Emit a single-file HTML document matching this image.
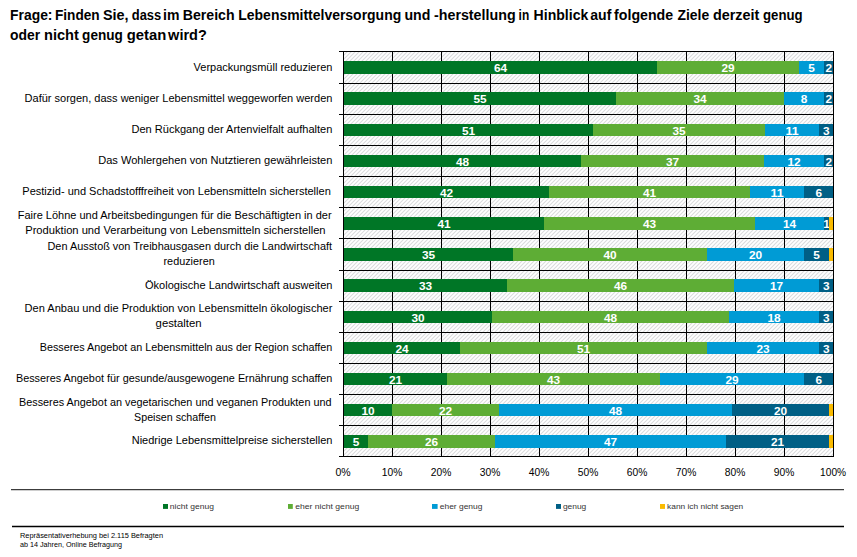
<!DOCTYPE html>
<html lang="de"><head><meta charset="utf-8"><title>Umfrage Lebensmittelversorgung</title>
<style>
html,body{margin:0;padding:0;background:#fff}
body{width:857px;height:557px;overflow:hidden;font-family:"Liberation Sans",sans-serif}
svg{display:block;font-family:"Liberation Sans",sans-serif}
.t{font-weight:bold;font-size:14px;fill:#000}
.l{font-size:11.0px;fill:#000}
.v{font-size:11.0px;font-weight:bold;fill:#fff;text-anchor:middle}
.x{font-size:10.8px;fill:#000;text-anchor:middle}
.g{font-size:8px;fill:#333}
.f{font-size:6.9px;fill:#000}
</style></head><body>
<svg width="857" height="557" viewBox="0 0 857 557">
<defs><pattern id="h" width="4" height="4" patternUnits="userSpaceOnUse"><rect width="4" height="4" fill="#fff"/><path d="M-2 1L1 -2M-1 4L4 -1M2 5L5 2" stroke="#dadbdd" stroke-width="1.05"/></pattern></defs>
<rect width="857" height="557" fill="#fff"/>
<text class="t" x="10.1" y="19.9" textLength="42.4" lengthAdjust="spacingAndGlyphs">Frage:</text>
<text class="t" x="55.0" y="19.9" textLength="44.7" lengthAdjust="spacingAndGlyphs">Finden</text>
<text class="t" x="102.9" y="19.9" textLength="25.6" lengthAdjust="spacingAndGlyphs">Sie,</text>
<text class="t" x="131.8" y="19.9" textLength="29.4" lengthAdjust="spacingAndGlyphs">dass</text>
<text class="t" x="163.1" y="19.9" textLength="16.4" lengthAdjust="spacingAndGlyphs">im</text>
<text class="t" x="182.8" y="19.9" textLength="51.8" lengthAdjust="spacingAndGlyphs">Bereich</text>
<text class="t" x="238.3" y="19.9" textLength="162.9" lengthAdjust="spacingAndGlyphs">Lebensmittelversorgung</text>
<text class="t" x="404.4" y="19.9" textLength="25.9" lengthAdjust="spacingAndGlyphs">und</text>
<text class="t" x="434.0" y="19.9" textLength="81.6" lengthAdjust="spacingAndGlyphs">-herstellung</text>
<text class="t" x="518.6" y="19.9" textLength="10.6" lengthAdjust="spacingAndGlyphs">in</text>
<text class="t" x="533.6" y="19.9" textLength="54.7" lengthAdjust="spacingAndGlyphs">Hinblick</text>
<text class="t" x="590.3" y="19.9" textLength="21.1" lengthAdjust="spacingAndGlyphs">auf</text>
<text class="t" x="614.1" y="19.9" textLength="59.0" lengthAdjust="spacingAndGlyphs">folgende</text>
<text class="t" x="677.5" y="19.9" textLength="31.7" lengthAdjust="spacingAndGlyphs">Ziele</text>
<text class="t" x="713.0" y="19.9" textLength="46.3" lengthAdjust="spacingAndGlyphs">derzeit</text>
<text class="t" x="763.0" y="19.9" textLength="39.6" lengthAdjust="spacingAndGlyphs">genug</text>
<text class="t" x="10.1" y="39.8" textLength="30.1" lengthAdjust="spacingAndGlyphs">oder</text>
<text class="t" x="44.0" y="39.8" textLength="34.9" lengthAdjust="spacingAndGlyphs">nicht</text>
<text class="t" x="82.1" y="39.8" textLength="40.7" lengthAdjust="spacingAndGlyphs">genug</text>
<text class="t" x="126.7" y="39.8" textLength="39.5" lengthAdjust="spacingAndGlyphs">getan</text>
<text class="t" x="168.1" y="39.8" textLength="38.7" lengthAdjust="spacingAndGlyphs">wird?</text>
<rect x="343.50" y="51.50" width="490.00" height="405.00" fill="url(#h)"/>
<line x1="343.50" y1="51.50" x2="343.50" y2="456.50" stroke="#000" stroke-width="1"/>
<line x1="392.50" y1="51.50" x2="392.50" y2="456.50" stroke="#000" stroke-width="1"/>
<line x1="441.50" y1="51.50" x2="441.50" y2="456.50" stroke="#000" stroke-width="1"/>
<line x1="490.50" y1="51.50" x2="490.50" y2="456.50" stroke="#000" stroke-width="1"/>
<line x1="539.50" y1="51.50" x2="539.50" y2="456.50" stroke="#000" stroke-width="1"/>
<line x1="588.50" y1="51.50" x2="588.50" y2="456.50" stroke="#000" stroke-width="1"/>
<line x1="637.50" y1="51.50" x2="637.50" y2="456.50" stroke="#000" stroke-width="1"/>
<line x1="686.50" y1="51.50" x2="686.50" y2="456.50" stroke="#000" stroke-width="1"/>
<line x1="735.50" y1="51.50" x2="735.50" y2="456.50" stroke="#000" stroke-width="1"/>
<line x1="784.50" y1="51.50" x2="784.50" y2="456.50" stroke="#000" stroke-width="1"/>
<line x1="833.50" y1="51.50" x2="833.50" y2="456.50" stroke="#000" stroke-width="1"/>
<line x1="339" y1="51.50" x2="834.00" y2="51.50" stroke="#000" stroke-width="1"/>
<line x1="339" y1="83.50" x2="834.00" y2="83.50" stroke="#000" stroke-width="1"/>
<line x1="339" y1="114.50" x2="834.00" y2="114.50" stroke="#000" stroke-width="1"/>
<line x1="339" y1="145.50" x2="834.00" y2="145.50" stroke="#000" stroke-width="1"/>
<line x1="339" y1="176.50" x2="834.00" y2="176.50" stroke="#000" stroke-width="1"/>
<line x1="339" y1="207.50" x2="834.00" y2="207.50" stroke="#000" stroke-width="1"/>
<line x1="339" y1="238.50" x2="834.00" y2="238.50" stroke="#000" stroke-width="1"/>
<line x1="339" y1="270.50" x2="834.00" y2="270.50" stroke="#000" stroke-width="1"/>
<line x1="339" y1="301.50" x2="834.00" y2="301.50" stroke="#000" stroke-width="1"/>
<line x1="339" y1="332.50" x2="834.00" y2="332.50" stroke="#000" stroke-width="1"/>
<line x1="339" y1="363.50" x2="834.00" y2="363.50" stroke="#000" stroke-width="1"/>
<line x1="339" y1="394.50" x2="834.00" y2="394.50" stroke="#000" stroke-width="1"/>
<line x1="339" y1="425.50" x2="834.00" y2="425.50" stroke="#000" stroke-width="1"/>
<line x1="339" y1="456.50" x2="834.00" y2="456.50" stroke="#000" stroke-width="1"/>
<rect x="344.00" y="61.00" width="313.00" height="13.00" fill="#007626"/>
<text class="v" x="500.50" y="72.20" textLength="13.2" lengthAdjust="spacingAndGlyphs">64</text>
<rect x="657.00" y="61.00" width="142.00" height="13.00" fill="#5EAD35"/>
<text class="v" x="728.00" y="72.20" textLength="13.2" lengthAdjust="spacingAndGlyphs">29</text>
<rect x="799.00" y="61.00" width="25.00" height="13.00" fill="#009BD5"/>
<text class="v" x="811.50" y="72.20" textLength="6.6" lengthAdjust="spacingAndGlyphs">5</text>
<rect x="824.00" y="61.00" width="9.50" height="13.00" fill="#005F85"/>
<text class="v" x="828.75" y="72.20" textLength="6.6" lengthAdjust="spacingAndGlyphs">2</text>
<rect x="344.00" y="92.00" width="272.00" height="13.00" fill="#007626"/>
<text class="v" x="480.00" y="103.20" textLength="13.2" lengthAdjust="spacingAndGlyphs">55</text>
<rect x="616.00" y="92.00" width="168.00" height="13.00" fill="#5EAD35"/>
<text class="v" x="700.00" y="103.20" textLength="13.2" lengthAdjust="spacingAndGlyphs">34</text>
<rect x="784.00" y="92.00" width="40.00" height="13.00" fill="#009BD5"/>
<text class="v" x="804.00" y="103.20" textLength="6.6" lengthAdjust="spacingAndGlyphs">8</text>
<rect x="824.00" y="92.00" width="9.50" height="13.00" fill="#005F85"/>
<text class="v" x="828.75" y="103.20" textLength="6.6" lengthAdjust="spacingAndGlyphs">2</text>
<rect x="344.00" y="124.00" width="249.00" height="12.00" fill="#007626"/>
<text class="v" x="468.50" y="134.70" textLength="13.2" lengthAdjust="spacingAndGlyphs">51</text>
<rect x="593.00" y="124.00" width="172.00" height="12.00" fill="#5EAD35"/>
<text class="v" x="679.00" y="134.70" textLength="13.2" lengthAdjust="spacingAndGlyphs">35</text>
<rect x="765.00" y="124.00" width="54.00" height="12.00" fill="#009BD5"/>
<text class="v" x="792.00" y="134.70" textLength="13.2" lengthAdjust="spacingAndGlyphs">11</text>
<rect x="819.00" y="124.00" width="14.50" height="12.00" fill="#005F85"/>
<text class="v" x="826.25" y="134.70" textLength="6.6" lengthAdjust="spacingAndGlyphs">3</text>
<rect x="344.00" y="155.00" width="237.00" height="12.00" fill="#007626"/>
<text class="v" x="462.50" y="165.70" textLength="13.2" lengthAdjust="spacingAndGlyphs">48</text>
<rect x="581.00" y="155.00" width="183.00" height="12.00" fill="#5EAD35"/>
<text class="v" x="672.50" y="165.70" textLength="13.2" lengthAdjust="spacingAndGlyphs">37</text>
<rect x="764.00" y="155.00" width="60.00" height="12.00" fill="#009BD5"/>
<text class="v" x="794.00" y="165.70" textLength="13.2" lengthAdjust="spacingAndGlyphs">12</text>
<rect x="824.00" y="155.00" width="9.50" height="12.00" fill="#005F85"/>
<text class="v" x="828.75" y="165.70" textLength="6.6" lengthAdjust="spacingAndGlyphs">2</text>
<rect x="344.00" y="186.00" width="205.00" height="12.00" fill="#007626"/>
<text class="v" x="446.50" y="196.70" textLength="13.2" lengthAdjust="spacingAndGlyphs">42</text>
<rect x="549.00" y="186.00" width="201.00" height="12.00" fill="#5EAD35"/>
<text class="v" x="649.50" y="196.70" textLength="13.2" lengthAdjust="spacingAndGlyphs">41</text>
<rect x="750.00" y="186.00" width="54.00" height="12.00" fill="#009BD5"/>
<text class="v" x="777.00" y="196.70" textLength="13.2" lengthAdjust="spacingAndGlyphs">11</text>
<rect x="804.00" y="186.00" width="29.50" height="12.00" fill="#005F85"/>
<text class="v" x="818.75" y="196.70" textLength="6.6" lengthAdjust="spacingAndGlyphs">6</text>
<rect x="344.00" y="217.00" width="200.00" height="13.00" fill="#007626"/>
<text class="v" x="444.00" y="228.20" textLength="13.2" lengthAdjust="spacingAndGlyphs">41</text>
<rect x="544.00" y="217.00" width="211.00" height="13.00" fill="#5EAD35"/>
<text class="v" x="649.50" y="228.20" textLength="13.2" lengthAdjust="spacingAndGlyphs">43</text>
<rect x="755.00" y="217.00" width="69.00" height="13.00" fill="#009BD5"/>
<text class="v" x="789.50" y="228.20" textLength="13.2" lengthAdjust="spacingAndGlyphs">14</text>
<rect x="824.00" y="217.00" width="5.00" height="13.00" fill="#005F85"/>
<text class="v" x="826.50" y="228.20" textLength="6.6" lengthAdjust="spacingAndGlyphs">1</text>
<rect x="829.00" y="217.00" width="4.50" height="13.00" fill="#FABB00"/>
<rect x="344.00" y="248.00" width="169.00" height="13.00" fill="#007626"/>
<text class="v" x="428.50" y="259.20" textLength="13.2" lengthAdjust="spacingAndGlyphs">35</text>
<rect x="513.00" y="248.00" width="194.00" height="13.00" fill="#5EAD35"/>
<text class="v" x="610.00" y="259.20" textLength="13.2" lengthAdjust="spacingAndGlyphs">40</text>
<rect x="707.00" y="248.00" width="97.00" height="13.00" fill="#009BD5"/>
<text class="v" x="755.50" y="259.20" textLength="13.2" lengthAdjust="spacingAndGlyphs">20</text>
<rect x="804.00" y="248.00" width="25.00" height="13.00" fill="#005F85"/>
<text class="v" x="816.50" y="259.20" textLength="6.6" lengthAdjust="spacingAndGlyphs">5</text>
<rect x="829.00" y="248.00" width="4.50" height="13.00" fill="#FABB00"/>
<rect x="344.00" y="279.00" width="163.00" height="13.00" fill="#007626"/>
<text class="v" x="425.50" y="290.20" textLength="13.2" lengthAdjust="spacingAndGlyphs">33</text>
<rect x="507.00" y="279.00" width="227.00" height="13.00" fill="#5EAD35"/>
<text class="v" x="620.50" y="290.20" textLength="13.2" lengthAdjust="spacingAndGlyphs">46</text>
<rect x="734.00" y="279.00" width="85.00" height="13.00" fill="#009BD5"/>
<text class="v" x="776.50" y="290.20" textLength="13.2" lengthAdjust="spacingAndGlyphs">17</text>
<rect x="819.00" y="279.00" width="14.50" height="13.00" fill="#005F85"/>
<text class="v" x="826.25" y="290.20" textLength="6.6" lengthAdjust="spacingAndGlyphs">3</text>
<rect x="344.00" y="311.00" width="148.00" height="12.00" fill="#007626"/>
<text class="v" x="418.00" y="321.70" textLength="13.2" lengthAdjust="spacingAndGlyphs">30</text>
<rect x="492.00" y="311.00" width="237.00" height="12.00" fill="#5EAD35"/>
<text class="v" x="610.50" y="321.70" textLength="13.2" lengthAdjust="spacingAndGlyphs">48</text>
<rect x="729.00" y="311.00" width="90.00" height="12.00" fill="#009BD5"/>
<text class="v" x="774.00" y="321.70" textLength="13.2" lengthAdjust="spacingAndGlyphs">18</text>
<rect x="819.00" y="311.00" width="14.50" height="12.00" fill="#005F85"/>
<text class="v" x="826.25" y="321.70" textLength="6.6" lengthAdjust="spacingAndGlyphs">3</text>
<rect x="344.00" y="342.00" width="116.00" height="12.00" fill="#007626"/>
<text class="v" x="402.00" y="352.70" textLength="13.2" lengthAdjust="spacingAndGlyphs">24</text>
<rect x="460.00" y="342.00" width="247.00" height="12.00" fill="#5EAD35"/>
<text class="v" x="583.50" y="352.70" textLength="13.2" lengthAdjust="spacingAndGlyphs">51</text>
<rect x="707.00" y="342.00" width="112.00" height="12.00" fill="#009BD5"/>
<text class="v" x="763.00" y="352.70" textLength="13.2" lengthAdjust="spacingAndGlyphs">23</text>
<rect x="819.00" y="342.00" width="14.50" height="12.00" fill="#005F85"/>
<text class="v" x="826.25" y="352.70" textLength="6.6" lengthAdjust="spacingAndGlyphs">3</text>
<rect x="344.00" y="373.00" width="103.00" height="12.00" fill="#007626"/>
<text class="v" x="395.50" y="383.70" textLength="13.2" lengthAdjust="spacingAndGlyphs">21</text>
<rect x="447.00" y="373.00" width="213.00" height="12.00" fill="#5EAD35"/>
<text class="v" x="553.50" y="383.70" textLength="13.2" lengthAdjust="spacingAndGlyphs">43</text>
<rect x="660.00" y="373.00" width="144.00" height="12.00" fill="#009BD5"/>
<text class="v" x="732.00" y="383.70" textLength="13.2" lengthAdjust="spacingAndGlyphs">29</text>
<rect x="804.00" y="373.00" width="29.50" height="12.00" fill="#005F85"/>
<text class="v" x="818.75" y="383.70" textLength="6.6" lengthAdjust="spacingAndGlyphs">6</text>
<rect x="344.00" y="404.00" width="48.00" height="12.00" fill="#007626"/>
<text class="v" x="368.00" y="414.70" textLength="13.2" lengthAdjust="spacingAndGlyphs">10</text>
<rect x="392.00" y="404.00" width="107.00" height="12.00" fill="#5EAD35"/>
<text class="v" x="445.50" y="414.70" textLength="13.2" lengthAdjust="spacingAndGlyphs">22</text>
<rect x="499.00" y="404.00" width="233.00" height="12.00" fill="#009BD5"/>
<text class="v" x="615.50" y="414.70" textLength="13.2" lengthAdjust="spacingAndGlyphs">48</text>
<rect x="732.00" y="404.00" width="97.00" height="12.00" fill="#005F85"/>
<text class="v" x="780.50" y="414.70" textLength="13.2" lengthAdjust="spacingAndGlyphs">20</text>
<rect x="829.00" y="404.00" width="4.50" height="12.00" fill="#FABB00"/>
<rect x="344.00" y="435.00" width="24.00" height="13.00" fill="#007626"/>
<text class="v" x="356.00" y="446.20" textLength="6.6" lengthAdjust="spacingAndGlyphs">5</text>
<rect x="368.00" y="435.00" width="127.00" height="13.00" fill="#5EAD35"/>
<text class="v" x="431.50" y="446.20" textLength="13.2" lengthAdjust="spacingAndGlyphs">26</text>
<rect x="495.00" y="435.00" width="231.00" height="13.00" fill="#009BD5"/>
<text class="v" x="610.50" y="446.20" textLength="13.2" lengthAdjust="spacingAndGlyphs">47</text>
<rect x="726.00" y="435.00" width="103.00" height="13.00" fill="#005F85"/>
<text class="v" x="777.50" y="446.20" textLength="13.2" lengthAdjust="spacingAndGlyphs">21</text>
<rect x="829.00" y="435.00" width="4.50" height="13.00" fill="#FABB00"/>
<line x1="343.50" y1="51.50" x2="343.50" y2="456.50" stroke="#000" stroke-width="1"/>
<line x1="833.50" y1="51.50" x2="833.50" y2="456.50" stroke="#000" stroke-width="1"/>
<text class="l" x="193.6" y="71.0" textLength="138.8" lengthAdjust="spacingAndGlyphs">Verpackungsmüll reduzieren</text>
<text class="l" x="24.6" y="102.0" textLength="307.8" lengthAdjust="spacingAndGlyphs">Dafür sorgen, dass weniger Lebensmittel weggeworfen werden</text>
<text class="l" x="131.4" y="133.0" textLength="201.0" lengthAdjust="spacingAndGlyphs">Den Rückgang der Artenvielfalt aufhalten</text>
<text class="l" x="98.2" y="164.0" textLength="234.2" lengthAdjust="spacingAndGlyphs">Das Wohlergehen von Nutztieren gewährleisten</text>
<text class="l" x="22.3" y="195.0" textLength="308.5" lengthAdjust="spacingAndGlyphs">Pestizid- und Schadstofffreiheit von Lebensmitteln sicherstellen</text>
<text class="l" x="17.8" y="219.0" textLength="313.8" lengthAdjust="spacingAndGlyphs">Faire Löhne und Arbeitsbedingungen für die Beschäftigten in der</text>
<text class="l" x="25.2" y="234.0" textLength="300.4" lengthAdjust="spacingAndGlyphs">Produktion und Verarbeitung von Lebensmitteln sicherstellen</text>
<text class="l" x="47.5" y="250.0" textLength="284.5" lengthAdjust="spacingAndGlyphs">Den Ausstoß von Treibhausgasen durch die Landwirtschaft</text>
<text class="l" x="163.5" y="265.0" textLength="51.2" lengthAdjust="spacingAndGlyphs">reduzieren</text>
<text class="l" x="145.0" y="288.8" textLength="187.4" lengthAdjust="spacingAndGlyphs">Ökologische Landwirtschaft ausweiten</text>
<text class="l" x="24.6" y="312.2" textLength="307.8" lengthAdjust="spacingAndGlyphs">Den Anbau und die Produktion von Lebensmitteln ökologischer</text>
<text class="l" x="155.6" y="327.2" textLength="46.0" lengthAdjust="spacingAndGlyphs">gestalten</text>
<text class="l" x="39.7" y="351.0" textLength="292.7" lengthAdjust="spacingAndGlyphs">Besseres Angebot an Lebensmitteln aus der Region schaffen</text>
<text class="l" x="15.9" y="382.0" textLength="316.5" lengthAdjust="spacingAndGlyphs">Besseres Angebot für gesunde/ausgewogene Ernährung schaffen</text>
<text class="l" x="19.0" y="406.0" textLength="312.5" lengthAdjust="spacingAndGlyphs">Besseres Angebot an vegetarischen und veganen Produkten und</text>
<text class="l" x="134.1" y="421.0" textLength="81.8" lengthAdjust="spacingAndGlyphs">Speisen schaffen</text>
<text class="l" x="131.7" y="444.0" textLength="200.7" lengthAdjust="spacingAndGlyphs">Niedrige Lebensmittelpreise sicherstellen</text>
<text class="x" x="343.10" y="476" textLength="15.2" lengthAdjust="spacingAndGlyphs">0%</text>
<text class="x" x="392.10" y="476" textLength="20.6" lengthAdjust="spacingAndGlyphs">10%</text>
<text class="x" x="441.10" y="476" textLength="20.6" lengthAdjust="spacingAndGlyphs">20%</text>
<text class="x" x="490.10" y="476" textLength="20.6" lengthAdjust="spacingAndGlyphs">30%</text>
<text class="x" x="539.10" y="476" textLength="20.6" lengthAdjust="spacingAndGlyphs">40%</text>
<text class="x" x="588.10" y="476" textLength="20.6" lengthAdjust="spacingAndGlyphs">50%</text>
<text class="x" x="637.10" y="476" textLength="20.6" lengthAdjust="spacingAndGlyphs">60%</text>
<text class="x" x="686.10" y="476" textLength="20.6" lengthAdjust="spacingAndGlyphs">70%</text>
<text class="x" x="735.10" y="476" textLength="20.6" lengthAdjust="spacingAndGlyphs">80%</text>
<text class="x" x="784.10" y="476" textLength="20.6" lengthAdjust="spacingAndGlyphs">90%</text>
<text class="x" x="833.10" y="476" textLength="26.0" lengthAdjust="spacingAndGlyphs">100%</text>
<line x1="11" y1="489.6" x2="844" y2="489.6" stroke="#3c3c3c" stroke-width="1.4"/>
<line x1="12" y1="526.5" x2="844" y2="526.5" stroke="#000" stroke-width="1.4"/>
<rect x="163.0" y="504" width="5.0" height="4.9" fill="#007626"/>
<text class="g" x="169.8" y="508.7" textLength="44.1" lengthAdjust="spacingAndGlyphs">nicht genug</text>
<rect x="288.0" y="504" width="4.8" height="4.9" fill="#5EAD35"/>
<text class="g" x="295.3" y="508.7" textLength="63.9" lengthAdjust="spacingAndGlyphs">eher nicht genug</text>
<rect x="432.0" y="504" width="5.6" height="4.9" fill="#009BD5"/>
<text class="g" x="439.8" y="508.7" textLength="42.6" lengthAdjust="spacingAndGlyphs">eher genug</text>
<rect x="556.0" y="504" width="5.0" height="4.9" fill="#005F85"/>
<text class="g" x="562.9" y="508.7" textLength="23.4" lengthAdjust="spacingAndGlyphs">genug</text>
<rect x="660.0" y="504" width="5.0" height="4.9" fill="#FABB00"/>
<text class="g" x="667.1" y="508.7" textLength="76.1" lengthAdjust="spacingAndGlyphs">kann ich nicht sagen</text>
<text class="f" x="20" y="537.7" textLength="143" lengthAdjust="spacingAndGlyphs">Repräsentativerhebung bei 2.115 Befragten</text>
<text class="f" x="20" y="546.8" textLength="102" lengthAdjust="spacingAndGlyphs">ab 14 Jahren, Online Befragung</text>
</svg>
</body></html>
